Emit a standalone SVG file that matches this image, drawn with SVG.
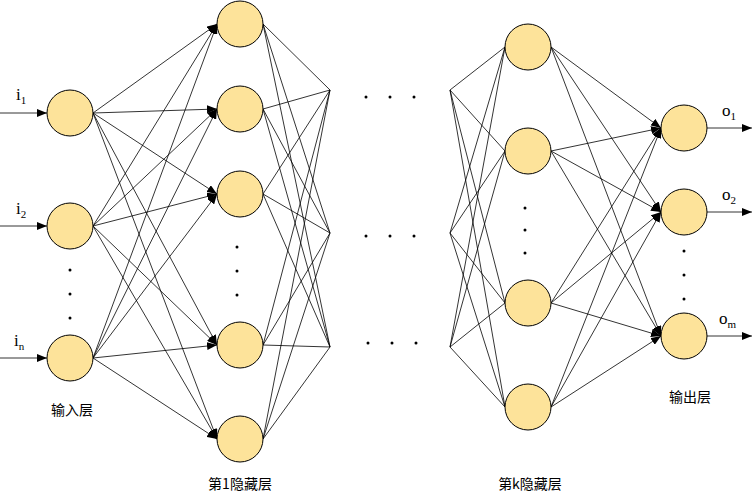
<svg xmlns="http://www.w3.org/2000/svg" width="754" height="504" viewBox="0 0 754 504">
<style>
.n{fill:#fde39a;stroke:#000;stroke-width:1}
.c line{stroke:#000;stroke-width:0.8}
.a{marker-end:url(#ar)}
.t{font-family:"Liberation Serif",serif;font-size:17px}
.s{font-family:"Liberation Serif",serif;font-size:11px}
.z{font-family:"Noto Sans CJK SC",serif;font-size:14px}
.d{fill:#000}
</style>
<defs><marker id="ar" markerWidth="10" markerHeight="8" refX="10" refY="4" orient="auto" markerUnits="userSpaceOnUse"><path d="M0,0L10,4L0,8z"/></marker></defs>
<g class="c">
<line class="a" x1="0" y1="113" x2="47" y2="113"/><line class="a" x1="0" y1="226" x2="47" y2="226"/><line class="a" x1="0" y1="358" x2="47" y2="358"/>
<line class="a" x1="93" y1="113" x2="217" y2="24"/><line class="a" x1="93" y1="113" x2="217" y2="109"/><line class="a" x1="93" y1="113" x2="217" y2="194"/><line class="a" x1="93" y1="113" x2="217" y2="345"/><line class="a" x1="93" y1="113" x2="217" y2="439"/>
<line class="a" x1="93" y1="226" x2="217" y2="24"/><line class="a" x1="93" y1="226" x2="217" y2="109"/><line class="a" x1="93" y1="226" x2="217" y2="194"/><line class="a" x1="93" y1="226" x2="217" y2="345"/><line class="a" x1="93" y1="226" x2="217" y2="439"/>
<line class="a" x1="93" y1="358" x2="217" y2="24"/><line class="a" x1="93" y1="358" x2="217" y2="109"/><line class="a" x1="93" y1="358" x2="217" y2="194"/><line class="a" x1="93" y1="358" x2="217" y2="345"/><line class="a" x1="93" y1="358" x2="217" y2="439"/>
<line x1="263" y1="24" x2="330" y2="90"/><line x1="263" y1="24" x2="330" y2="233"/><line x1="263" y1="24" x2="330" y2="347"/>
<line x1="263" y1="109" x2="330" y2="90"/><line x1="263" y1="109" x2="330" y2="233"/><line x1="263" y1="109" x2="330" y2="347"/>
<line x1="263" y1="194" x2="330" y2="90"/><line x1="263" y1="194" x2="330" y2="233"/><line x1="263" y1="194" x2="330" y2="347"/>
<line x1="263" y1="345" x2="330" y2="90"/><line x1="263" y1="345" x2="330" y2="233"/><line x1="263" y1="345" x2="330" y2="347"/>
<line x1="263" y1="439" x2="330" y2="90"/><line x1="263" y1="439" x2="330" y2="233"/><line x1="263" y1="439" x2="330" y2="347"/>
<line x1="450" y1="90" x2="505" y2="47"/><line x1="450" y1="90" x2="505" y2="151"/><line x1="450" y1="90" x2="505" y2="303"/><line x1="450" y1="90" x2="505" y2="407"/>
<line x1="450" y1="233" x2="505" y2="47"/><line x1="450" y1="233" x2="505" y2="151"/><line x1="450" y1="233" x2="505" y2="303"/><line x1="450" y1="233" x2="505" y2="407"/>
<line x1="450" y1="347" x2="505" y2="47"/><line x1="450" y1="347" x2="505" y2="151"/><line x1="450" y1="347" x2="505" y2="303"/><line x1="450" y1="347" x2="505" y2="407"/>
<line class="a" x1="551" y1="47" x2="661" y2="128"/><line class="a" x1="551" y1="47" x2="661" y2="212"/><line class="a" x1="551" y1="47" x2="661" y2="336"/>
<line class="a" x1="551" y1="151" x2="661" y2="128"/><line class="a" x1="551" y1="151" x2="661" y2="212"/><line class="a" x1="551" y1="151" x2="661" y2="336"/>
<line class="a" x1="551" y1="303" x2="661" y2="128"/><line class="a" x1="551" y1="303" x2="661" y2="212"/><line class="a" x1="551" y1="303" x2="661" y2="336"/>
<line class="a" x1="551" y1="407" x2="661" y2="128"/><line class="a" x1="551" y1="407" x2="661" y2="212"/><line class="a" x1="551" y1="407" x2="661" y2="336"/>
<line class="a" x1="707" y1="128" x2="752" y2="128"/><line class="a" x1="707" y1="212" x2="752" y2="212"/><line class="a" x1="707" y1="336" x2="752" y2="336"/>
</g>
<g id="input"><circle class="n" cx="70" cy="113" r="23"/><circle class="n" cx="70" cy="226" r="23"/><circle class="n" cx="70" cy="358" r="23"/>
<circle class="d" cx="70" cy="270" r="1.5"/><circle class="d" cx="70" cy="294" r="1.5"/><circle class="d" cx="70" cy="318" r="1.5"/></g>
<g id="hidden1"><circle class="n" cx="240" cy="24" r="23"/><circle class="n" cx="240" cy="109" r="23"/><circle class="n" cx="240" cy="194" r="23"/><circle class="n" cx="240" cy="345" r="23"/><circle class="n" cx="240" cy="439" r="23"/>
<circle class="d" cx="237" cy="247" r="1.5"/><circle class="d" cx="237" cy="271" r="1.5"/><circle class="d" cx="237" cy="295" r="1.5"/></g>
<g id="middots"><circle class="d" cx="366" cy="97" r="1.5"/><circle class="d" cx="390" cy="97" r="1.5"/><circle class="d" cx="414" cy="97" r="1.5"/>
<circle class="d" cx="366" cy="236" r="1.5"/><circle class="d" cx="390" cy="236" r="1.5"/><circle class="d" cx="414" cy="236" r="1.5"/>
<circle class="d" cx="368" cy="343" r="1.5"/><circle class="d" cx="392" cy="343" r="1.5"/><circle class="d" cx="416" cy="343" r="1.5"/></g>
<g id="hiddenk"><circle class="n" cx="528" cy="47" r="23"/><circle class="n" cx="528" cy="151" r="23"/><circle class="n" cx="528" cy="303" r="23"/><circle class="n" cx="528" cy="407" r="23"/>
<circle class="d" cx="525" cy="208" r="1.5"/><circle class="d" cx="525" cy="230" r="1.5"/><circle class="d" cx="525" cy="253" r="1.5"/></g>
<g id="output"><circle class="n" cx="684" cy="128" r="23"/><circle class="n" cx="684" cy="212" r="23"/><circle class="n" cx="684" cy="336" r="23"/>
<circle class="d" cx="684" cy="251" r="1.5"/><circle class="d" cx="684" cy="275" r="1.5"/><circle class="d" cx="684" cy="299" r="1.5"/></g>
<g id="labels">
<text class="t" x="16" y="100">i<tspan class="s" dy="4">1</tspan></text>
<text class="t" x="16" y="214">i<tspan class="s" dy="4">2</tspan></text>
<text class="t" x="14" y="346">i<tspan class="s" dy="4">n</tspan></text>
<text class="t" x="722" y="116">o<tspan class="s" dy="4">1</tspan></text>
<text class="t" x="722" y="200">o<tspan class="s" dy="4">2</tspan></text>
<text class="t" x="719" y="324">o<tspan class="s" dy="4">m</tspan></text>
<text class="z" x="72" y="415" text-anchor="middle">输入层</text>
<text class="z" x="690" y="402" text-anchor="middle">输出层</text>
<text class="z" x="240" y="489" text-anchor="middle">第1隐藏层</text>
<text class="z" x="530" y="489" text-anchor="middle">第k隐藏层</text>
</g>
</svg>
